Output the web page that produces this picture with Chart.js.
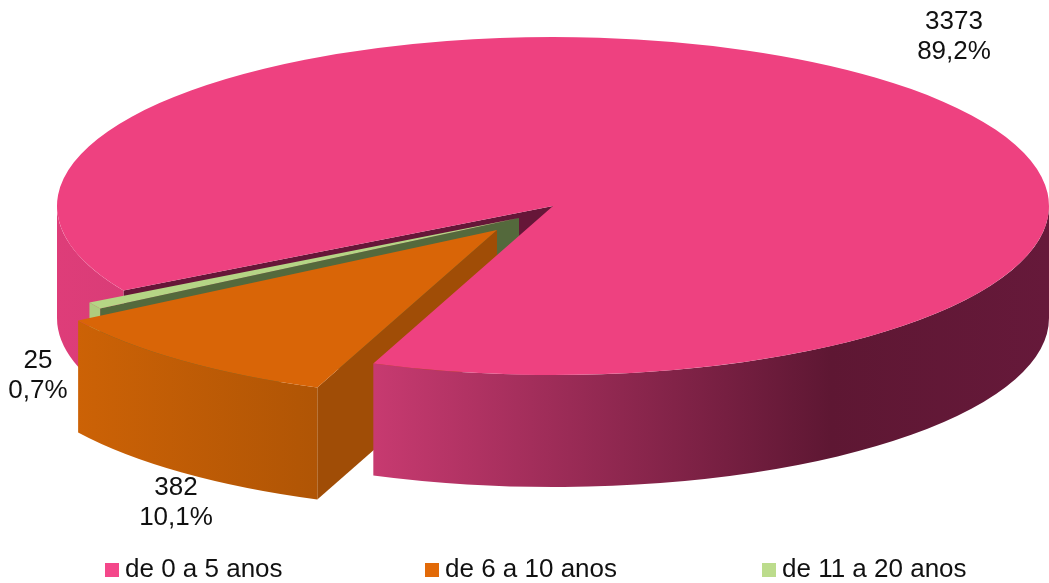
<!DOCTYPE html>
<html>
<head>
<meta charset="utf-8">
<style>
  body { margin: 0; background: #fff; }
  canvas { display: block; }
</style>
</head>
<body>
<canvas id="pie" width="1049" height="583"></canvas>
<script src="https://cdn.jsdelivr.net/npm/chart.js@4"></script>
<script>
// chart data
const categories = ['de 0 a 5 anos', 'de 6 a 10 anos', 'de 11 a 20 anos'];
const counts = [3373, 382, 25];
const percents = ['89,2%', '10,1%', '0,7%'];

const topColors = ['#ee4180', '#d96507', '#b5d585'];
const faceColors = ['#661638', '#a04d06', '#54693c'];
const legendColors = ['#f4478a', '#e26a08', '#bcdc8c'];

// layout of the 3D pie: ellipse centre, squash, wall height and pulled out slices
const CX = 553, CY = 206, SQUASH = 169 / 496, DEPTH = 112;
const explode = [[0, 0], [-56, 24], [-34, 12]];
const labelSpots = [[954, 22], [176, 488], [38, 361]];
const legendSpots = [105, 425, 762];
const FONT_FAMILY = '"Liberation Sans", Arial, sans-serif';

function wallFill(ctx, i) {
  if (i === 0) {
    const g = ctx.createLinearGradient(57, 0, 1049, 0);
    g.addColorStop(0, '#de3d79');
    g.addColorStop(0.32, '#c73a70');
    g.addColorStop(0.78, '#5e1733');
    g.addColorStop(1, '#66193a');
    return g;
  }
  if (i === 1) {
    const g = ctx.createLinearGradient(77, 0, 316, 0);
    g.addColorStop(0, '#cc6206');
    g.addColorStop(1, '#b05505');
    return g;
  }
  return '#aecd7e';
}

function arcCentre(i) {
  return [CX + explode[i][0], CY + explode[i][1]];
}

function drawFace(ctx, arc, i) {
  const [x, y] = arcCentre(i);
  const R = arc.outerRadius;
  const ex = x + Math.cos(arc.startAngle) * R;
  const ey = y + Math.sin(arc.startAngle) * R * SQUASH;
  ctx.fillStyle = faceColors[i];
  ctx.beginPath();
  ctx.moveTo(x, y);
  ctx.lineTo(ex, ey);
  ctx.lineTo(ex, ey + DEPTH);
  ctx.lineTo(x, y + DEPTH);
  ctx.closePath();
  ctx.fill();
}

// outer wall, only the part of the rim between from and to
function drawWall(ctx, arc, i, from, to) {
  const [x, y] = arcCentre(i);
  const R = arc.outerRadius;
  ctx.fillStyle = wallFill(ctx, i);
  ctx.beginPath();
  ctx.ellipse(x, y, R, R * SQUASH, 0, from, to);
  ctx.ellipse(x, y + DEPTH, R, R * SQUASH, 0, to, from, true);
  ctx.closePath();
  ctx.fill();
}

function drawTop(ctx, arc, i) {
  const [x, y] = arcCentre(i);
  ctx.save();
  ctx.translate(x, y);
  ctx.scale(1, SQUASH);
  ctx.translate(-arc.x, -arc.y);
  arc.draw(ctx);
  ctx.restore();
}

const pie3d = {
  id: 'pie3d',
  beforeDatasetsDraw(chart) {
    const ctx = chart.ctx;
    const [pink, orange, green] = chart.getDatasetMeta(0).data;
    const TAU = Math.PI * 2;

    // pink runs past a full turn, so its rim is split in two front pieces
    drawFace(ctx, pink, 0);
    drawWall(ctx, pink, 0, pink.startAngle, Math.PI);
    drawFace(ctx, green, 2);
    drawFace(ctx, orange, 1);
    drawWall(ctx, pink, 0, TAU, pink.endAngle);
    drawTop(ctx, pink, 0);
    drawWall(ctx, green, 2, green.startAngle, green.endAngle);
    drawTop(ctx, green, 2);
    drawWall(ctx, orange, 1, orange.startAngle, orange.endAngle);
    drawTop(ctx, orange, 1);
    return false;
  },
  afterDraw(chart) {
    const ctx = chart.ctx;
    ctx.save();
    ctx.fillStyle = '#111';
    ctx.textBaseline = 'middle';
    ctx.font = '26px ' + FONT_FAMILY;

    // value labels
    ctx.textAlign = 'center';
    counts.forEach((c, i) => {
      const [x, y] = labelSpots[i];
      ctx.fillText(String(c), x, y);
      ctx.fillText(percents[i], x, y + 30);
    });

    // legend, spaced wider than the built in one can do
    ctx.textAlign = 'left';
    categories.forEach((name, i) => {
      ctx.fillStyle = legendColors[i];
      ctx.fillRect(legendSpots[i], 563, 14, 14);
      ctx.fillStyle = '#111';
      ctx.fillText(name, legendSpots[i] + 20, 570);
    });
    ctx.restore();
  }
};

const pieConfig = {
  type: 'pie',
  data: {
    labels: categories,
    datasets: [{
      data: counts,
      backgroundColor: topColors,
      borderWidth: 0,
      hoverOffset: 0
    }]
  },
  options: {
    responsive: false,
    animation: false,
    radius: 496,
    rotation: 240,
    events: [],
    plugins: {
      tooltip: { enabled: false },
      legend: { display: false }
    }
  },
  plugins: [pie3d]
};

const pieCtx = document.getElementById('pie');
window.myPie = new Chart(pieCtx, pieConfig);
</script>
</body>
</html>
